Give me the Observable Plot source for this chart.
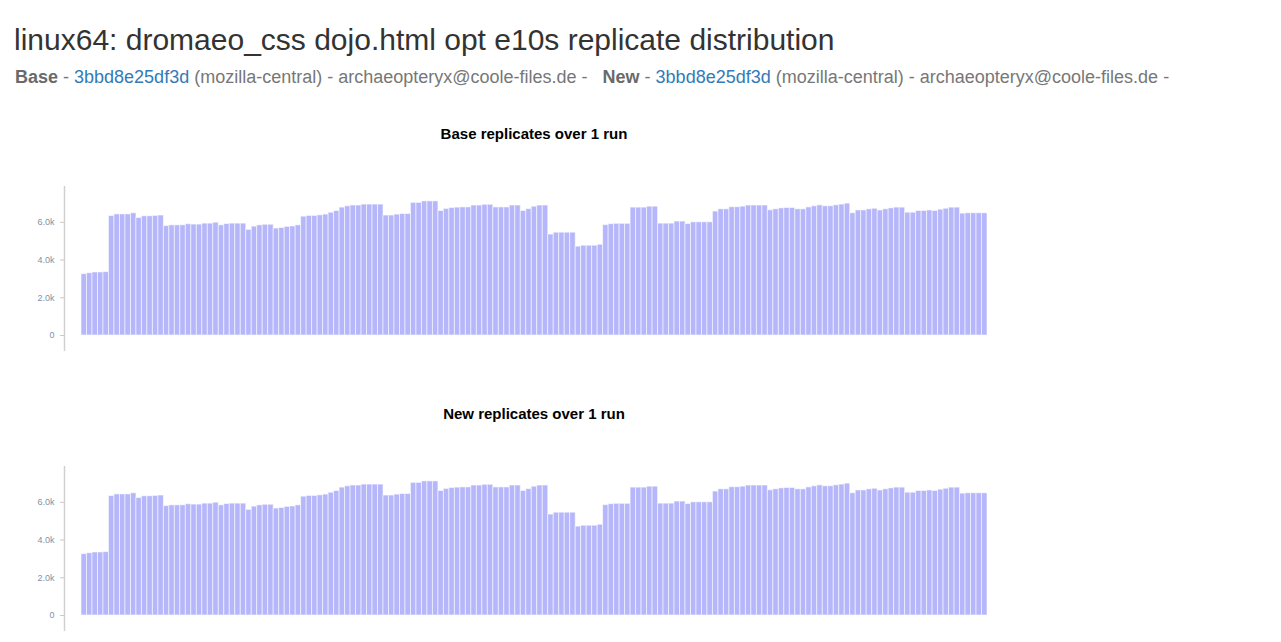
<!DOCTYPE html>
<html>
<head>
<meta charset="utf-8">
<script src="https://cdn.jsdelivr.net/npm/d3@7"></script>
<script src="https://cdn.jsdelivr.net/npm/@observablehq/plot@0.6"></script>
<style>
  html, body { margin: 0; padding: 0; background: #fff; }
  body { width: 1281px; height: 642px; position: relative; overflow: hidden;
         font-family: "Liberation Sans", Arial, Helvetica, sans-serif; }
  .title { position: absolute; left: 14px; top: 25px; font-size: 30px; line-height: 30px; color: #333; white-space: nowrap; }
  .subtitle { position: absolute; left: 15px; top: 67px; font-size: 18px; line-height: 20px; color: #777; white-space: nowrap; }
  .subtitle b { color: #6a6a6a; }
  .subtitle a { color: #337ab7; text-decoration: none; }
  .subtitle .gap { display: inline-block; width: 10px; }
  .chart-title { position: absolute; left: 0; width: 1068px; text-align: center; font-size: 15px; line-height: 16px; font-weight: bold; color: #000; }
  .chart { position: absolute; left: 0; }
</style>
</head>
<body>
<div class="title" id="title"></div>
<div class="subtitle" id="subtitle"></div>
<div class="chart-title" id="t1" style="top:126px"></div>
<div class="chart" id="c1" style="top:180px"></div>
<div class="chart-title" id="t2" style="top:406px"></div>
<div class="chart" id="c2" style="top:460px"></div>
<script>
const pageTitle = "linux64: dromaeo_css dojo.html opt e10s replicate distribution";
const revision = "3bbd8e25df3d";
const repo = "(mozilla-central)";
const author = "archaeopteryx@coole-files.de";
const chartTitles = ["Base replicates over 1 run", "New replicates over 1 run"];
const yTickValues = [0, 2000, 4000, 6000];
const yTickLabels = ["0", "2.0k", "4.0k", "6.0k"];

const baseReplicates = [
  3250, 3300, 3340, 3340, 3360, 6330, 6420, 6420, 6420, 6480,
  6230, 6320, 6320, 6340, 6360, 5800, 5840, 5840, 5840, 5900,
  5880, 5880, 5930, 5930, 5980, 5840, 5910, 5930, 5930, 5930,
  5600, 5770, 5840, 5870, 5870, 5670, 5700, 5760, 5780, 5840,
  6300, 6340, 6340, 6370, 6410, 6510, 6600, 6780, 6850, 6890,
  6890, 6940, 6940, 6940, 6940, 6360, 6360, 6410, 6440, 6440,
  7030, 7030, 7110, 7110, 7110, 6600, 6710, 6760, 6780, 6790,
  6790, 6890, 6890, 6930, 6930, 6790, 6790, 6790, 6890, 6890,
  6600, 6700, 6830, 6890, 6890, 5350, 5450, 5450, 5450, 5450,
  4710, 4760, 4760, 4760, 4810, 5850, 5900, 5920, 5920, 5920,
  6780, 6780, 6780, 6830, 6830, 5930, 5930, 5930, 6040, 6040,
  5910, 6000, 6000, 6000, 6000, 6570, 6690, 6690, 6800, 6800,
  6830, 6890, 6890, 6890, 6890, 6640, 6690, 6740, 6760, 6760,
  6690, 6690, 6790, 6850, 6900, 6850, 6850, 6900, 6940, 6990,
  6480, 6630, 6630, 6690, 6720, 6630, 6690, 6740, 6780, 6780,
  6510, 6510, 6600, 6600, 6630, 6600, 6670, 6720, 6780, 6780,
  6460, 6480, 6480, 6480, 6480
];
const newReplicates = [
  3250, 3300, 3340, 3340, 3360, 6330, 6420, 6420, 6420, 6480,
  6230, 6320, 6320, 6340, 6360, 5800, 5840, 5840, 5840, 5900,
  5880, 5880, 5930, 5930, 5980, 5840, 5910, 5930, 5930, 5930,
  5600, 5770, 5840, 5870, 5870, 5670, 5700, 5760, 5780, 5840,
  6300, 6340, 6340, 6370, 6410, 6510, 6600, 6780, 6850, 6890,
  6890, 6940, 6940, 6940, 6940, 6360, 6360, 6410, 6440, 6440,
  7030, 7030, 7110, 7110, 7110, 6600, 6710, 6760, 6780, 6790,
  6790, 6890, 6890, 6930, 6930, 6790, 6790, 6790, 6890, 6890,
  6600, 6700, 6830, 6890, 6890, 5350, 5450, 5450, 5450, 5450,
  4710, 4760, 4760, 4760, 4810, 5850, 5900, 5920, 5920, 5920,
  6780, 6780, 6780, 6830, 6830, 5930, 5930, 5930, 6040, 6040,
  5910, 6000, 6000, 6000, 6000, 6570, 6690, 6690, 6800, 6800,
  6830, 6890, 6890, 6890, 6890, 6640, 6690, 6740, 6760, 6760,
  6690, 6690, 6790, 6850, 6900, 6850, 6850, 6900, 6940, 6990,
  6480, 6630, 6630, 6690, 6720, 6630, 6690, 6740, 6780, 6780,
  6510, 6510, 6600, 6600, 6630, 6600, 6670, 6720, 6780, 6780,
  6460, 6480, 6480, 6480, 6480
];

document.getElementById("title").textContent = pageTitle;
const sub = document.getElementById("subtitle");
function addPart(label) {
  const b = document.createElement("b"); b.textContent = label; sub.appendChild(b);
  sub.appendChild(document.createTextNode(" - "));
  const a = document.createElement("a"); a.textContent = revision; sub.appendChild(a);
  sub.appendChild(document.createTextNode(" " + repo + " - " + author + " - "));
}
addPart("Base");
const gap = document.createElement("span"); gap.className = "gap"; sub.appendChild(gap);
addPart("New");

document.getElementById("t1").textContent = chartTitles[0];
document.getElementById("t2").textContent = chartTitles[1];

function histogram(values) {
  const rows = values.map((v, i) => ({i, v}));
  const n = values.length;
  const axisX = -3.1;
  return Plot.plot({
    width: 1000,
    height: 180,
    marginLeft: 64,
    marginRight: 13,
    marginTop: 6,
    marginBottom: 9,
    style: {fontFamily: "'Liberation Sans', Arial, sans-serif", fontSize: "9px", background: "transparent"},
    x: {type: "linear", domain: [axisX, n], axis: null},
    y: {domain: [-850, 7900]},
    marks: [
      Plot.rectY(rows, {x1: "i", x2: d => d.i + 1, y: "v", fill: "#b6b6fb", stroke: "#ffffff", strokeOpacity: 0.55, strokeWidth: 1}),
      Plot.ruleX([axisX], {y1: -850, y2: 7900, stroke: "#d0d0d0", strokeWidth: 1.5}),
      Plot.axisY({ticks: yTickValues, tickFormat: d => yTickLabels[yTickValues.indexOf(d)], anchor: "left",
                  tickSize: 4, tickPadding: 6, stroke: "#c8c8c8", fill: "#8090a8", label: null})
    ]
  });
}
document.getElementById("c1").appendChild(histogram(baseReplicates));
document.getElementById("c2").appendChild(histogram(newReplicates));
</script>
</body>
</html>
